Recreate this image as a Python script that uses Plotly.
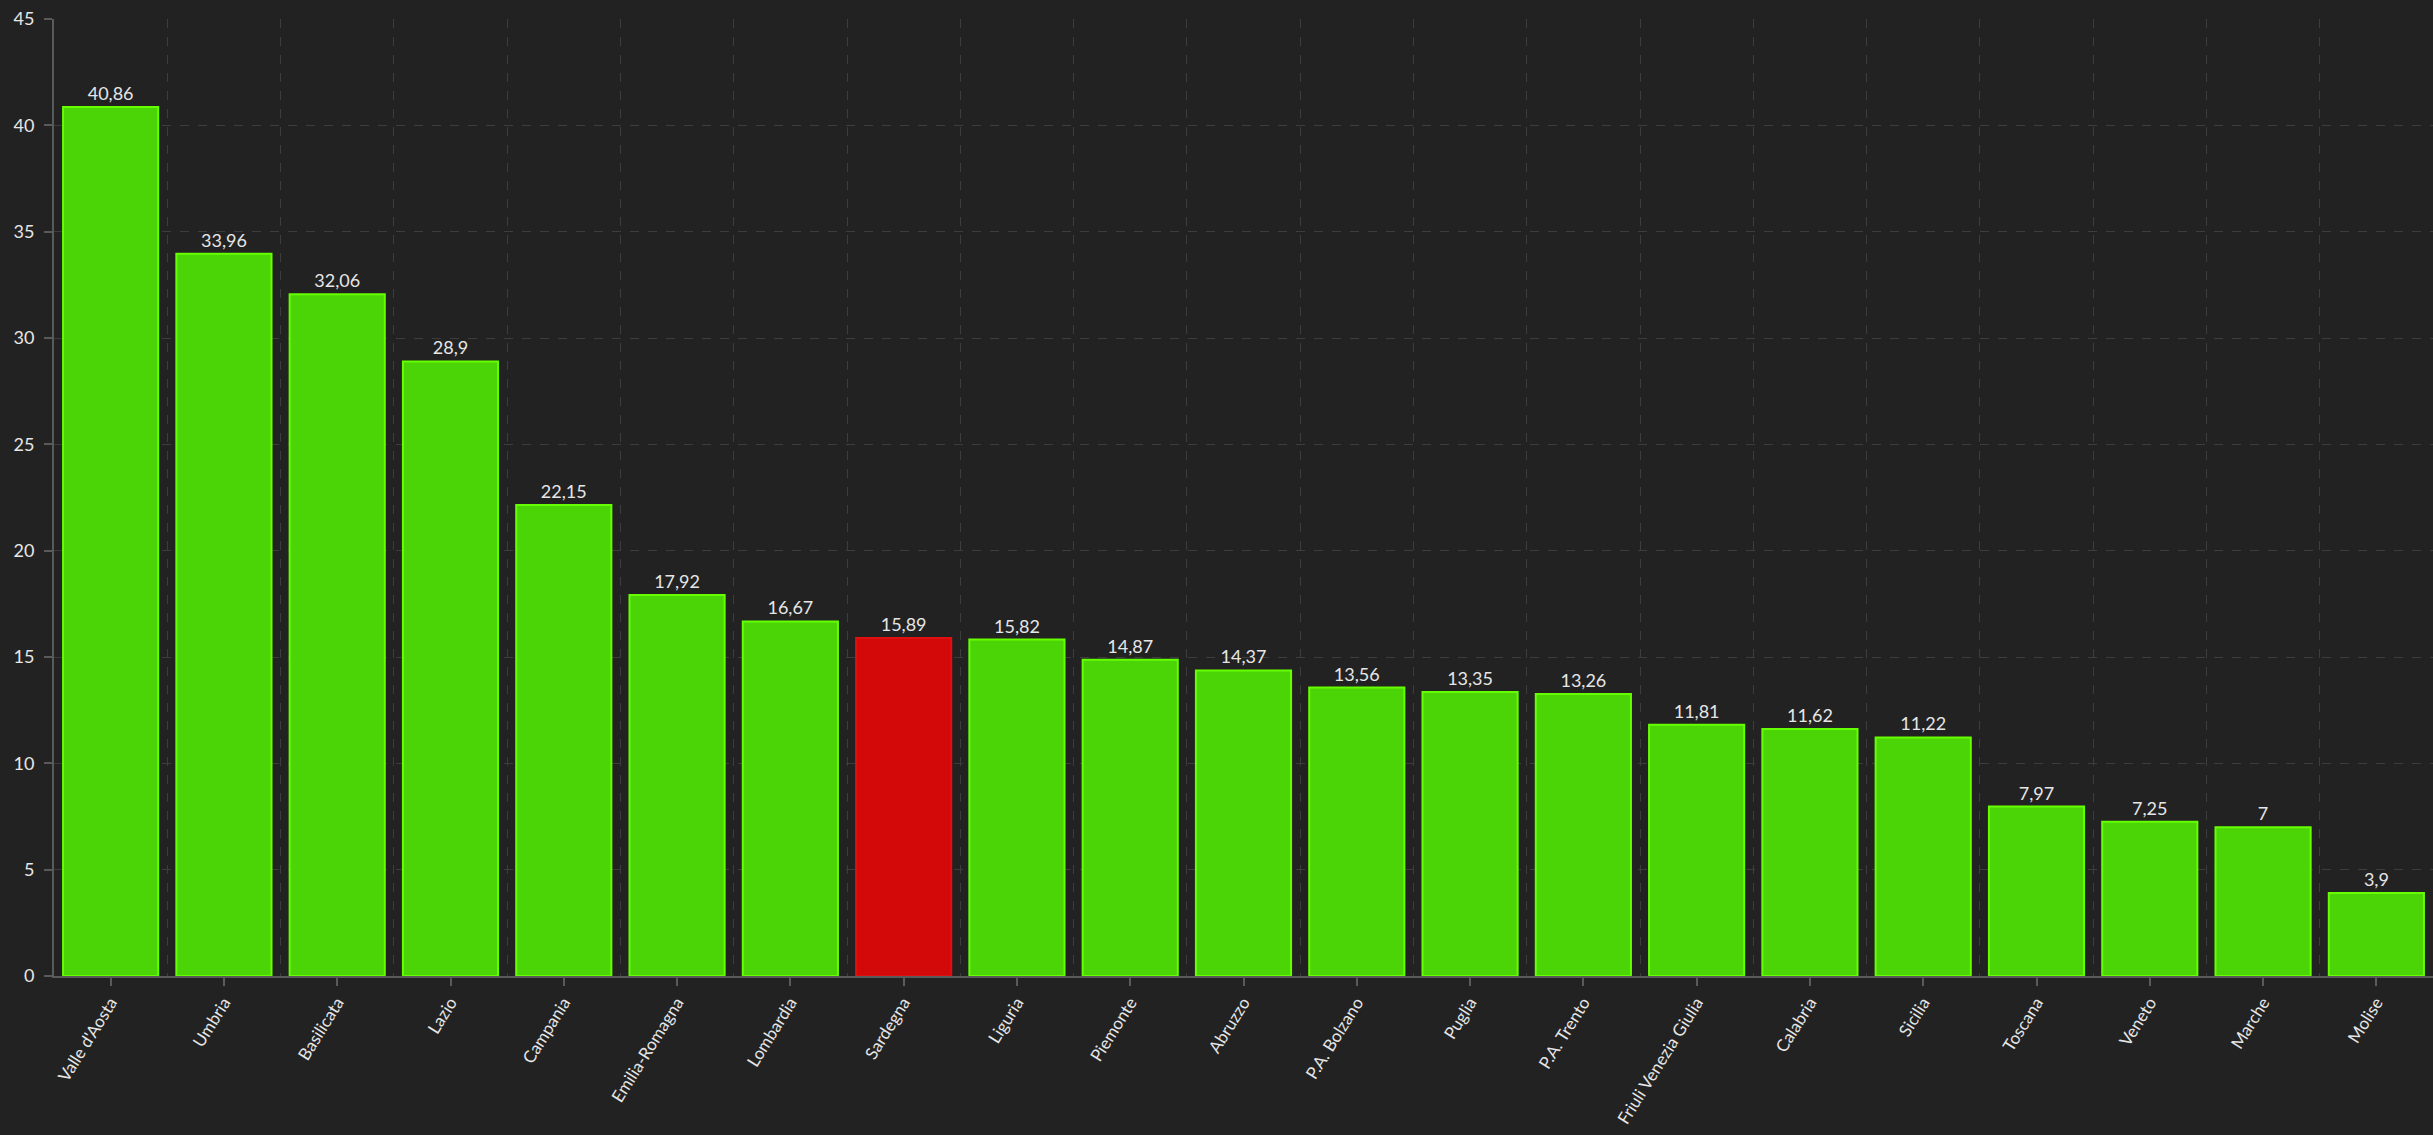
import plotly.graph_objects as go

regions = ["Valle d'Aosta", "Umbria", "Basilicata", "Lazio", "Campania", "Emilia-Romagna",
           "Lombardia", "Sardegna", "Liguria", "Piemonte", "Abruzzo", "P.A. Bolzano",
           "Puglia", "P.A. Trento", "Friuli Venezia Giulia", "Calabria", "Sicilia",
           "Toscana", "Veneto", "Marche", "Molise"]
values = [40.86, 33.96, 32.06, 28.9, 22.15, 17.92, 16.67, 15.89, 15.82, 14.87, 14.37,
          13.56, 13.35, 13.26, 11.81, 11.62, 11.22, 7.97, 7.25, 7, 3.9]
highlight = "Sardegna"
y_ticks = [0, 5, 10, 15, 20, 25, 30, 35, 40, 45]

GREEN_FILL = "#4bd406"
GREEN_LINE = "#66ff00"
RED_FILL = "#d30909"
RED_LINE = "#e01010"

fills = [RED_FILL if r == highlight else GREEN_FILL for r in regions]
lines = [RED_LINE if r == highlight else GREEN_LINE for r in regions]
labels = [f"{v:g}".replace(".", ",") for v in values]

FONT = "Lato"
TXT = "#e6e6e6"
GRID = "#3d3d3d"
AXIS = "#5a5a5a"

fig = go.Figure()
fig.add_trace(go.Bar(
    x=regions, y=values,
    marker=dict(color=fills, line=dict(color=lines, width=2)),
    text=labels, textposition="outside", cliponaxis=False,
    textfont=dict(family=FONT, size=18, color=TXT),
    hoverinfo="x+y", showlegend=False,
))
# empty trace so the boundary-grid axis gets drawn
fig.add_trace(go.Scatter(x=[], y=[], xaxis="x2", yaxis="y", showlegend=False, hoverinfo="skip"))

fig.update_layout(
    width=2433, height=1135,
    paper_bgcolor="#222222", plot_bgcolor="#222222",
    margin=dict(l=54, r=0, t=19, b=159, autoexpand=False),
    bargap=0.16,
    font=dict(family=FONT, size=18, color=TXT),
    xaxis=dict(
        type="category", showgrid=False, tickangle=-58, automargin=False,
        ticks="outside", ticklen=8, tickcolor=AXIS, tickwidth=1.5,
        showline=True, linecolor=AXIS, linewidth=2,
        tickfont=dict(family=FONT, size=17, color=TXT),
        range=[-0.5, len(regions) - 0.5], zeroline=False,
    ),
    xaxis2=dict(
        overlaying="x", anchor="y", side="bottom", automargin=False,
        range=[-0.5, len(regions) - 0.5], tick0=0.5, dtick=1,
        showgrid=True, gridcolor=GRID, griddash="dash", gridwidth=1,
        showticklabels=False, ticks="", showline=False, zeroline=False,
    ),
    yaxis=dict(
        range=[0, 45], tickvals=y_ticks, automargin=False,
        showgrid=True, gridcolor=GRID, griddash="dash", gridwidth=1,
        ticks="outside", ticklen=8, tickcolor=AXIS, tickwidth=1.5,
        showline=True, linecolor=AXIS, linewidth=2, zeroline=False,
        tickfont=dict(family=FONT, size=18, color=TXT),
        ticklabelstandoff=6,
    ),
)

fig.write_html(
    "out.html",
    config={"displayModeBar": False},
    post_script="document.body.style.margin='0';document.body.style.background='#222222';document.body.style.overflow='hidden';",
)
